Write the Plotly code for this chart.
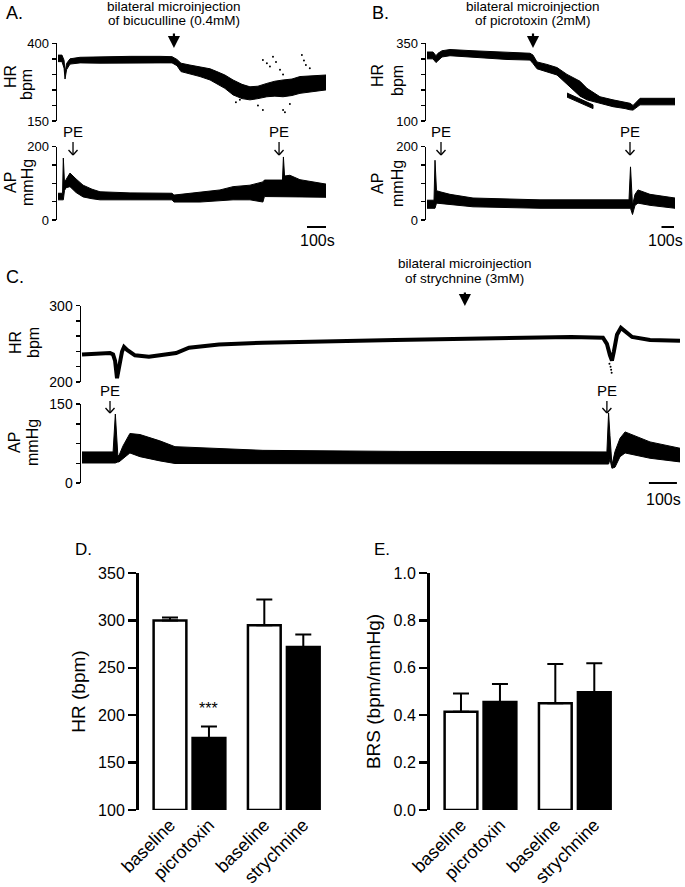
import plotly.graph_objects as go

W, H = 685, 887
FONT = "Liberation Sans, Arial, sans-serif"

# ---------------- Panel A : bicuculline ----------------
a_hr_t   = [0, 21, 32, 37, 45, 63, 116, 221, 379, 537, 600, 626, 647, 694, 747, 800, 836, 878, 921, 968, 1010, 1052, 1099, 1141, 1184, 1231, 1273, 1341, 1410]
a_hr_top = [362, 362, 345, 305, 335, 350, 355, 357, 358, 358, 357, 348, 336, 330, 325, 318, 309, 298, 282, 268, 260, 262, 271, 278, 282, 285, 293, 295, 298]
a_hr_bot = [341, 341, 320, 285, 315, 333, 337, 336, 336, 337, 337, 328, 309, 302, 293, 282, 271, 255, 234, 222, 218, 222, 228, 230, 228, 232, 239, 245, 250]
a_dot_t  = [936, 957, 1052, 1078, 1078, 1099, 1115, 1131, 1147, 1168, 1184, 1184, 1194, 1220, 1283, 1294, 1304, 1325]
a_dot_v  = [210, 218, 200, 346, 185, 336, 325, 357, 340, 315, 300, 185, 178, 205, 362, 345, 330, 320]
a_ap_t   = [0, 24, 28, 34, 42, 63, 95, 132, 179, 221, 379, 600, 610, 747, 852, 921, 1010, 1078, 1086, 1168, 1181, 1186, 1192, 1220, 1273, 1410]
a_ap_top = [73, 73, 169, 104, 110, 128, 112, 95, 84, 77, 74, 73, 68, 77, 82, 91, 95, 104, 109, 109, 109, 172, 120, 122, 110, 98]
a_ap_bot = [55, 55, 55, 80, 88, 91, 75, 63, 58, 55, 55, 55, 49, 49, 52, 55, 55, 49, 64, 64, 64, 64, 64, 63, 63, 62]
a_inject = 610
a_pe     = [79, 1163]
a_text   = ["bilateral microinjection", "of bicuculline (0.4mM)"]

# ---------------- Panel B : picrotoxin ----------------
b_hr_t   = [0, 48, 72, 88, 120, 184, 368, 640, 824, 848, 880, 960, 1040, 1120, 1168, 1224, 1280, 1384, 1488, 1584, 1624, 1648, 1704, 1984]
b_hr_top = [322, 322, 310, 318, 326, 330, 326, 320, 318, 312, 290, 282, 272, 250, 240, 228, 205, 178, 168, 160, 157, 150, 173, 173]
b_hr_bot = [300, 300, 288, 296, 306, 310, 306, 298, 296, 285, 268, 258, 248, 218, 200, 180, 168, 157, 146, 140, 136, 135, 152, 152]
b_br_t   = [1120, 1232, 1328]
b_br_top = [190, 170, 152]
b_br_bot = [177, 157, 140]
b_ap_t   = [0, 56, 64, 76, 104, 184, 368, 904, 1616, 1628, 1644, 1664, 1688, 1784, 1984]
b_ap_top = [54, 54, 163, 80, 77, 70, 60, 55, 55, 145, 40, 70, 82, 70, 60]
b_ap_bot = [32, 32, 32, 46, 46, 42, 36, 32, 32, 32, 15, 40, 46, 40, 32]
b_inject = 848
b_pe     = [112, 1624]
b_text   = ["bilateral microinjection", "of picrotoxin (2mM)"]

# ---------------- Panel C : strychnine ----------------
c_hr_t   = [0, 46, 100, 111, 118, 125, 132, 143, 150, 161, 189, 239, 278, 336, 382, 489, 646, 803, 960, 1117, 1274, 1431, 1589, 1746, 1860, 1874, 1885, 1892, 1899, 1910, 1924, 1942, 1964, 2028, 2135]
c_hr     = [236, 237, 238, 236, 228, 205, 222, 240, 246, 242, 235, 233, 235, 238, 245, 249, 251.5, 253, 254, 255, 256, 257, 258.5, 259, 258, 250, 235, 228, 240, 262, 271, 266, 259, 255, 254]
c_dot_t  = [1883, 1887, 1889, 1891]
c_dot_v  = [224, 220, 216, 212]
c_ap_t   = [0, 111, 119, 128, 132, 146, 171, 207, 278, 332, 646, 1135, 1874, 1880, 1885, 1892, 1903, 1921, 1939, 2028, 2135]
c_ap_top = [59, 59, 131, 52, 52, 70, 94, 92, 80, 69, 62, 60, 59, 133, 90, 34, 60, 85, 97, 78, 66]
c_ap_bot = [38, 38, 38, 40, 40, 45, 57, 50, 42, 37, 36, 36, 36, 36, 45, 28, 30, 50, 57, 47, 40]
c_inject = 1367
c_pe     = [100, 1874]
c_text   = ["bilateral microinjection", "of strychnine (3mM)"]

scale_bar_s = 100

# ---------------- Panels D / E : bar charts ----------------
groups    = ["baseline", "picrotoxin", "baseline", "strychnine"]
hr_mean   = [300, 176, 295, 272]
hr_sem    = [3, 12, 27, 13]
brs_mean  = [0.415, 0.456, 0.45, 0.497]
brs_sem   = [0.077, 0.076, 0.166, 0.122]

# ------------------------------------------------------------
def PX(x): return x / W
def PY(y): return 1 - y / H

fig = go.Figure()

def band(t, top, bot, xa, ya):
    fig.add_trace(go.Scatter(
        x=list(t) + list(t)[::-1], y=list(top) + list(bot)[::-1],
        fill="toself", fillcolor="black", mode="lines",
        line=dict(color="black", width=1), xaxis=xa, yaxis=ya, hoverinfo="skip"))

def dots(t, v, xa, ya):
    fig.add_trace(go.Scatter(x=t, y=v, mode="markers",
                             marker=dict(color="black", size=2),
                             xaxis=xa, yaxis=ya, hoverinfo="skip"))

# A
band(a_hr_t, a_hr_top, a_hr_bot, "x", "y")
dots(a_dot_t, a_dot_v, "x", "y")
band(a_ap_t, a_ap_top, a_ap_bot, "x2", "y2")
# B
band(b_hr_t, b_hr_top, b_hr_bot, "x3", "y3")
band(b_br_t, b_br_top, b_br_bot, "x3", "y3")
band(b_ap_t, b_ap_top, b_ap_bot, "x4", "y4")
# C
fig.add_trace(go.Scatter(x=c_hr_t, y=c_hr, mode="lines", line=dict(color="black", width=4),
                         xaxis="x5", yaxis="y5", hoverinfo="skip"))
dots(c_dot_t, c_dot_v, "x5", "y5")
band(c_ap_t, c_ap_top, c_ap_bot, "x6", "y6")

# bars
gap = 1.42
pos = [0, 1, 1 + gap, 2 + gap]
fill = ["white", "black", "white", "black"]
fig.add_trace(go.Bar(
    x=pos, y=[m - 100 for m in hr_mean], base=100, width=0.84,
    marker=dict(color=fill, line=dict(color="black", width=2.5)),
    error_y=dict(type="data", symmetric=False, array=hr_sem, arrayminus=[0] * 4,
                 color="black", thickness=2, width=8),
    xaxis="x7", yaxis="y7", hoverinfo="skip"))
fig.add_trace(go.Bar(
    x=pos, y=brs_mean, width=0.84,
    marker=dict(color=fill, line=dict(color="black", width=2.5)),
    error_y=dict(type="data", symmetric=False, array=brs_sem, arrayminus=[0] * 4,
                 color="black", thickness=2, width=8),
    xaxis="x8", yaxis="y8", hoverinfo="skip"))

# ---------------- axes ----------------
def trace_y(dom_px, rng, tv, font_size=13):
    return dict(domain=[PY(dom_px[1]), PY(dom_px[0])], range=rng, showgrid=False, zeroline=False,
                showline=True, linecolor="black", linewidth=1.5, ticks="outside", ticklen=4,
                tickwidth=1.5, tickcolor="black", tickvals=tv, automargin=False,
                ticktext=[str(tv[0])] + [""] * (len(tv) - 2) + [str(tv[-1])],
                tickfont=dict(family=FONT, size=font_size, color="black"))

def trace_x(dom_px, rng, anchor):
    return dict(domain=[PX(dom_px[0]), PX(dom_px[1])], range=rng, visible=False,
                anchor=anchor, automargin=False)

a_dom, b_dom, c_dom = [57, 326], [426, 675], [81, 680]
a_xr = [-5.26, 1410]
b_xr = [-8, 1984]
c_xr = [-3.57, 2135]

layout = dict(
    xaxis=trace_x(a_dom, a_xr, "y"),
    yaxis=trace_y([43.3, 121], [150, 400], [150, 200, 250, 300, 350, 400]),
    xaxis2=trace_x(a_dom, a_xr, "y2"),
    yaxis2=trace_y([146.7, 220], [0, 200], [0, 50, 100, 150, 200]),
    xaxis3=trace_x(b_dom, b_xr, "y3"),
    yaxis3=trace_y([43.3, 121], [100, 350], [100, 150, 200, 250, 300, 350]),
    xaxis4=trace_x(b_dom, b_xr, "y4"),
    yaxis4=trace_y([146.7, 220], [0, 200], [0, 50, 100, 150, 200]),
    xaxis5=trace_x(c_dom, c_xr, "y5"),
    yaxis5=trace_y([305.7, 382], [200, 300], [200, 220, 240, 260, 280, 300], 14),
    xaxis6=trace_x(c_dom, c_xr, "y6"),
    yaxis6=trace_y([404, 483], [0, 150], [0, 37.5, 75, 112.5, 150], 14),
)
for k in ["yaxis", "yaxis2", "yaxis3", "yaxis4", "yaxis5", "yaxis6"]:
    n = k[5:]
    layout[k]["anchor"] = "x" + n

bar_x_common = dict(range=[-0.795, 3.9], showgrid=False, zeroline=False, showline=False,
                    ticks="", tickvals=pos, ticktext=groups, tickangle=-45, automargin=False,
                    tickfont=dict(family=FONT, size=18, color="black"))
bar_y_common = dict(domain=[PY(810), PY(573)], showgrid=False, zeroline=False, showline=True,
                    linecolor="black", linewidth=3, ticks="outside", ticklen=8, tickwidth=2.5,
                    tickcolor="black", tickfont=dict(family=FONT, size=16, color="black"),
                    automargin=False,
                    title=dict(font=dict(family=FONT, size=19, color="black"), standoff=8))
layout["xaxis7"] = dict(bar_x_common, domain=[PX(139), PX(322)], anchor="y7")
layout["yaxis7"] = dict(bar_y_common, range=[100, 350], dtick=50, anchor="x7",
                        title=dict(bar_y_common["title"], text="HR (bpm)"))
layout["xaxis8"] = dict(bar_x_common, domain=[PX(430), PX(613)], anchor="y8")
layout["yaxis8"] = dict(bar_y_common, range=[0, 1], dtick=0.2, tickformat=".1f", anchor="x8",
                        title=dict(bar_y_common["title"], text="BRS (bpm/mmHg)"))

fig.update_layout(**layout)

# ---------------- annotations ----------------
ann = []
shapes = []
def txt(x, y, s, size, xref="paper", xanchor="center", angle=0):
    ann.append(dict(x=x, y=y, xref=xref, yref="paper", text=s, showarrow=False,
                    xanchor=xanchor, yanchor="middle", textangle=angle,
                    font=dict(family=FONT, size=size, color="black")))

# panel letters
txt(PX(4), PY(13), "A.", 18, xanchor="left")
txt(PX(370), PY(13), "B.", 18, xanchor="left")
txt(PX(4), PY(277), "C.", 18, xanchor="left")
txt(PX(73), PY(549), "D.", 17, xanchor="left")
txt(PX(372), PY(549), "E.", 17, xanchor="left")

# y labels of traces
for (hx, bx, hy, by, ay) in [(10, 27, 77, 85, 183), (377, 397, 76, 81, 184), (15, 33, 343, 343, 443)]:
    txt(PX(hx), PY(hy), "HR", 16, angle=-90)
    txt(PX(bx), PY(by), "bpm", 16, angle=-90)
    txt(PX(hx), PY(ay), "AP", 16, angle=-90)
    txt(PX(bx), PY(ay), "mmHg", 16, angle=-90)

# injection texts and arrows
for (xa, t_inj, lines, y1, y2, ya0, ya1) in [("x", a_inject, a_text, 6, 21, 32, 48),
                                             ("x3", b_inject, b_text, 6, 21, 32, 48),
                                             ("x5", c_inject, c_text, 263, 279, 291, 306)]:
    txt(t_inj, PY(y1), lines[0], 13.5, xref=xa)
    txt(t_inj, PY(y2), lines[1], 13.5, xref=xa)
    ann.append(dict(x=t_inj, y=PY(ya1), xref=xa, yref="paper", ax=0, ay=-(ya1 - ya0),
                    axref="pixel", ayref="pixel", showarrow=True, arrowhead=2, arrowsize=1.1,
                    arrowwidth=2.2, arrowcolor="black", text=""))

# PE labels with thin open arrows
def sec_per_px(dom, rng):
    return (rng[1] - rng[0]) / (dom[1] - dom[0])

for (xa, pes, ypx, y0, y1, dom, rng) in [("x", a_pe, 131, 142, 155, a_dom, a_xr),
                                         ("x3", b_pe, 131, 142, 155, b_dom, b_xr),
                                         ("x5", c_pe, 390, 401, 413, c_dom, c_xr)]:
    s = sec_per_px(dom, rng)
    for t in pes:
        txt(t, PY(ypx), "PE", 15, xref=xa)
        ln = dict(color="black", width=1.3)
        shapes.append(dict(type="line", xref=xa, yref="paper", x0=t, x1=t,
                           y0=PY(y0), y1=PY(y1), line=ln))
        shapes.append(dict(type="line", xref=xa, yref="paper", x0=t - 4.5 * s, x1=t,
                           y0=PY(y1 - 5), y1=PY(y1), line=ln))
        shapes.append(dict(type="line", xref=xa, yref="paper", x0=t + 4.5 * s, x1=t,
                           y0=PY(y1 - 5), y1=PY(y1), line=ln))

# scale bars
for (xa, t_end, ybar, ytxt, xtxt, anchor) in [("x", 1410, 227, 240, 317, "center"),
                                              ("x3", 1976, 227, 240, 685, "right"),
                                              ("x5", 2124, 483, 499, 683, "right")]:
    shapes.append(dict(type="line", xref=xa, yref="paper", x0=t_end - scale_bar_s, x1=t_end,
                       y0=PY(ybar), y1=PY(ybar), line=dict(color="black", width=2)))
    txt(PX(xtxt), PY(ytxt), "100s", 16, xanchor=anchor)

# significance
ann.append(dict(x=pos[1], y=PY(719), xref="x7", yref="paper", text="***", showarrow=False,
                font=dict(family=FONT, size=16, color="black")))

fig.update_layout(
    template="none",
    width=W, height=H, margin=dict(l=0, r=0, t=0, b=0, pad=0), autosize=False,
    paper_bgcolor="white", plot_bgcolor="white", showlegend=False,
    annotations=ann, shapes=shapes, bargap=0,
    font=dict(family=FONT, color="black"),
)

fig.write_html("out.html", config={"displayModeBar": False, "staticPlot": True},
               post_script="document.body.style.margin='0px';"
                           "document.documentElement.style.overflow='hidden';")
